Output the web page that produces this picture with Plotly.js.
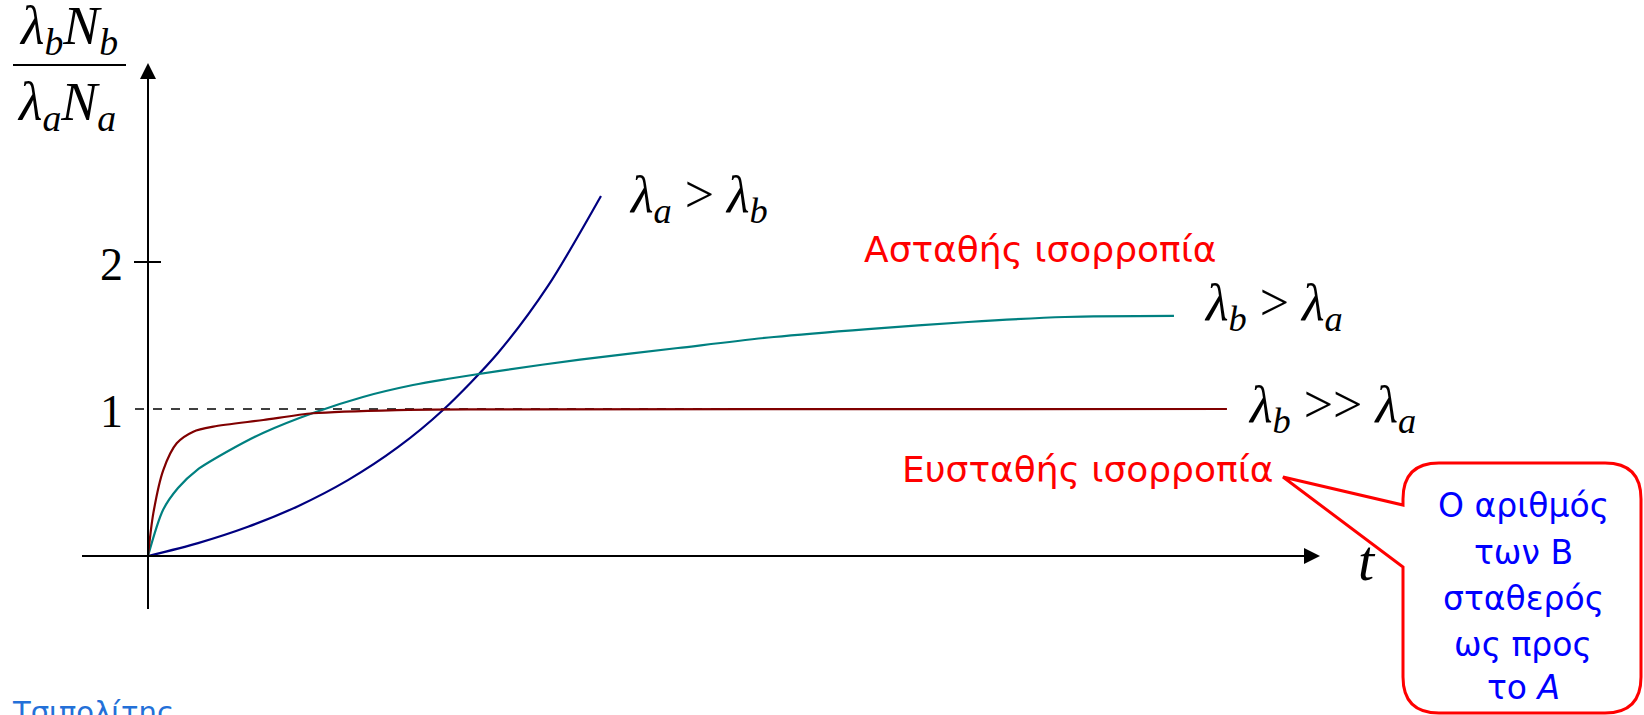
<!DOCTYPE html>
<html>
<head>
<meta charset="utf-8">
<script src="https://cdn.plot.ly/plotly-3.0.1.min.js"></script>
<style>
  html, body { margin: 0; padding: 0; background: #ffffff; }
  #chart { width: 1644px; height: 715px; }
</style>
</head>
<body>
<div id="chart"></div>
<script>
// Ratio λbNb / λaNa against time t for three decay regimes
const tBlue  = [0, 0.427, 0.853, 1.280, 1.706, 2.133, 2.517, 2.986, 3.413, 3.865];
const yBlue  = [0, 0.088, 0.199, 0.339, 0.516, 0.740, 0.993, 1.381, 1.837, 2.449];

const tTeal  = [0, 0.128, 0.256, 0.418, 0.700, 0.981, 1.408, 1.834, 2.261, 2.551, 2.986, 3.686, 4.522, 5.341, 6.143, 6.997, 7.824, 8.754];
const yTeal  = [0, 0.313, 0.463, 0.585, 0.721, 0.837, 0.973, 1.082, 1.163, 1.204, 1.258, 1.336, 1.415, 1.490, 1.544, 1.592, 1.626, 1.633];

const tRed   = [0, 0.0452, 0.1305, 0.2449, 0.3865, 0.557, 0.984, 1.410, 2.122, 2.833, 9.206];
const yRed   = [0, 0.290, 0.585, 0.767, 0.846, 0.880, 0.925, 0.971, 0.993, 0.998, 1.0];

const yTickValues = [1, 2];
const yTickLabels = ['1', '2'];

const seriesLabels = [
  '<i>λ</i><sub><i>a</i></sub> > <i>λ</i><sub><i>b</i></sub>',
  '<i>λ</i><sub><i>b</i></sub> > <i>λ</i><sub><i>a</i></sub>',
  '<i>λ</i><sub><i>b</i></sub> >> <i>λ</i><sub><i>a</i></sub>'
];
const unstableLabel = 'Ασταθής ισορροπία';
const stableLabel = 'Ευσταθής ισορροπία';
const calloutLines = ['Ο αριθμός', 'των Β', 'σταθερός', 'ως προς', 'το <i>A</i>'];
const authorLabel = 'Τσιπολίτης';

// axis ranges chosen so the figure spans the whole page
const xRange = [-1.2628, 12.7645];
const yRange = [-1.0816, 3.7823];
const W = 1644, H = 715;
const px = x => xRange[0] + (x / W) * (xRange[1] - xRange[0]);
const py = y => yRange[1] - (y / H) * (yRange[1] - yRange[0]);

const serif = 'Liberation Serif, Times New Roman, serif';
const sans = 'DejaVu Sans, Noto Sans, sans-serif';

const curve = (t, y, color) => ({
  x: t, y: y, mode: 'lines', type: 'scatter', hoverinfo: 'skip',
  line: { color: color, width: 2.2, shape: 'spline', smoothing: 0.8 }
});

const traces = [
  curve(tBlue, yBlue, '#000080'),
  curve(tTeal, yTeal, '#008080'),
  curve(tRed, yRed, '#800000')
];

// speech-bubble callout with a pointer on its left edge
function calloutPath() {
  const L = 1403, T = 463, R = 1641, B = 713, r = 36;
  const p = (x, y) => px(x) + ',' + py(y);
  return 'M' + p(L + r, T) +
    ' L' + p(R - r, T) + ' Q' + p(R, T) + ' ' + p(R, T + r) +
    ' L' + p(R, B - r) + ' Q' + p(R, B) + ' ' + p(R - r, B) +
    ' L' + p(L + r, B) + ' Q' + p(L, B) + ' ' + p(L, B - r) +
    ' L' + p(L, 567) + ' L' + p(1283, 477) + ' L' + p(L, 505) +
    ' L' + p(L, T + r) + ' Q' + p(L, T) + ' ' + p(L + r, T) + ' Z';
}

const shapes = [
  // axes
  { type: 'line', x0: px(82), x1: 9.9, y0: 0, y1: 0, line: { color: '#000', width: 2 } },
  { type: 'line', x0: 0, x1: 0, y0: py(609), y1: 3.30, line: { color: '#000', width: 2 } },
  // tick at 2
  { type: 'line', x0: px(134), x1: px(161), y0: yTickValues[1], y1: yTickValues[1], line: { color: '#000', width: 2 } },
  // reference level at 1
  { type: 'line', x0: px(135), x1: tRed[tRed.length - 1], y0: yTickValues[0], y1: yTickValues[0],
    line: { color: '#000', width: 1.5, dash: 'dash' }, layer: 'below' },
  // fraction bar of the y label
  { type: 'line', x0: px(13), x1: px(126), y0: py(65), y1: py(65), line: { color: '#000', width: 2 } },
  // callout
  { type: 'path', path: calloutPath(), fillcolor: '#ffffff', line: { color: '#ff0000', width: 3 } }
];

const ann = [];
// axis arrowheads
ann.push({ x: 10, y: 0, ax: 9.6, ay: 0, axref: 'x', ayref: 'y', xref: 'x', yref: 'y', text: '',
  showarrow: true, arrowhead: 2, arrowsize: 1.6, arrowwidth: 2, arrowcolor: '#000' });
ann.push({ x: 0, y: py(63), ax: 0, ay: 3.2, axref: 'x', ayref: 'y', xref: 'x', yref: 'y', text: '',
  showarrow: true, arrowhead: 2, arrowsize: 1.6, arrowwidth: 2, arrowcolor: '#000' });

// tick labels
yTickValues.forEach((v, i) => ann.push({
  x: px(111), y: v - 0.02, text: yTickLabels[i], showarrow: false, xanchor: 'center', yanchor: 'middle',
  font: { family: serif, size: 46, color: '#000' }
}));

// axis titles
ann.push({ x: px(1367), y: py(560), text: '<i>t</i>', showarrow: false, xanchor: 'center', yanchor: 'middle',
  font: { family: serif, size: 58, color: '#000' } });
ann.push({ x: px(68), y: py(29), text: '<i>λ</i><sub><i>b</i></sub><i>N</i><sub><i>b</i></sub>', showarrow: false,
  xanchor: 'center', yanchor: 'middle', font: { family: serif, size: 54, color: '#000' } });
ann.push({ x: px(66), y: py(105), text: '<i>λ</i><sub><i>a</i></sub><i>N</i><sub><i>a</i></sub>', showarrow: false,
  xanchor: 'center', yanchor: 'middle', font: { family: serif, size: 54, color: '#000' } });

// curve labels
const labelPos = [[627, 198], [1202, 306], [1246, 408]];
seriesLabels.forEach((s, i) => ann.push({
  x: px(labelPos[i][0]), y: py(labelPos[i][1]), text: s, showarrow: false, xanchor: 'left', yanchor: 'middle',
  font: { family: serif, size: 52, color: '#000' }
}));

// equilibrium notes
ann.push({ x: px(862), y: py(249), text: unstableLabel, showarrow: false, xanchor: 'left', yanchor: 'middle',
  font: { family: sans, size: 36, color: '#ff0000' } });
ann.push({ x: px(900), y: py(469), text: stableLabel, showarrow: false, xanchor: 'left', yanchor: 'middle',
  font: { family: sans, size: 36, color: '#ff0000' } });

// callout text
const calloutY = [505, 552, 598, 644, 687];
calloutLines.forEach((s, i) => ann.push({
  x: px(1523), y: py(calloutY[i]), text: s, showarrow: false, xanchor: 'center', yanchor: 'middle',
  font: { family: sans, size: 33, color: '#0000ff' }
}));

// author
ann.push({ x: px(10), y: py(693), text: authorLabel, showarrow: false, xanchor: 'left', yanchor: 'top',
  font: { family: sans, size: 29, color: '#2370d8' } });

const layout = {
  width: W, height: H,
  margin: { l: 0, r: 0, t: 0, b: 0 },
  paper_bgcolor: '#ffffff', plot_bgcolor: '#ffffff',
  showlegend: false,
  xaxis: { range: xRange, visible: false, fixedrange: true },
  yaxis: { range: yRange, visible: false, fixedrange: true },
  shapes: shapes,
  annotations: ann
};

Plotly.newPlot('chart', traces, layout, { staticPlot: true, displayModeBar: false });
</script>
</body>
</html>
